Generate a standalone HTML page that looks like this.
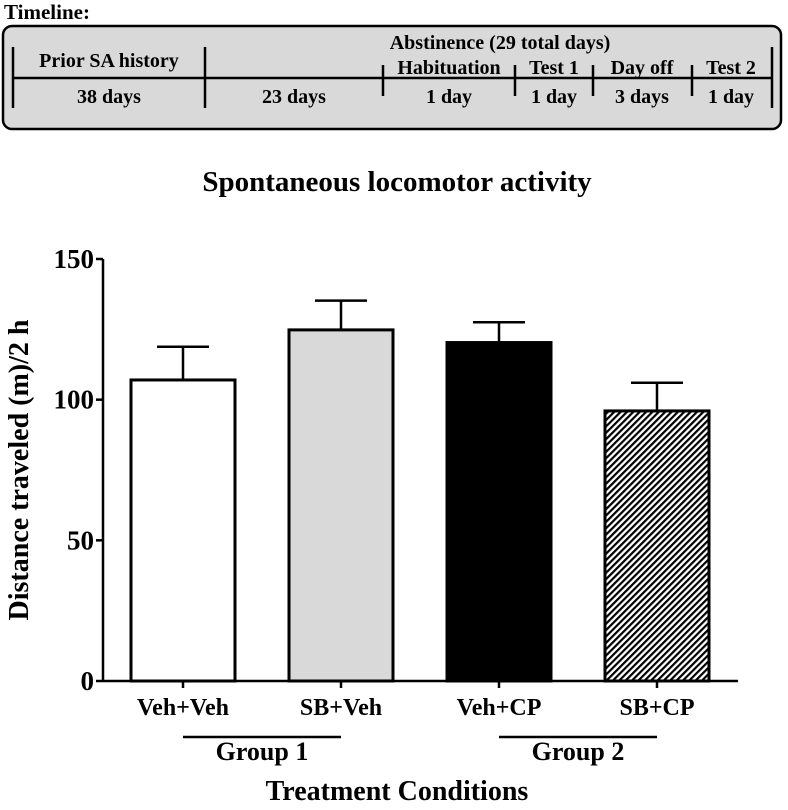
<!DOCTYPE html>
<html><head><meta charset="utf-8"><style>
body{margin:0;background:#fff;}
svg, svg text{font-family:'Liberation Serif','DejaVu Serif','Times New Roman',serif !important;font-weight:bold;fill:#000;}
</style></head><body>
<svg width="788" height="805" viewBox="0 0 788 805" xmlns="http://www.w3.org/2000/svg" font-family="Liberation Serif, DejaVu Serif, serif">
<defs><pattern id="hatch" patternUnits="userSpaceOnUse" width="4.5" height="4.5" patternTransform="rotate(45)"><rect width="4.5" height="4.5" fill="#fff"/><rect width="2.2" height="4.5" fill="#000"/></pattern></defs>
<g>
<text x="4" y="19" font-size="21">Timeline:</text>
<rect x="3" y="26" width="778" height="103" rx="9" fill="#d9d9d9" stroke="#000" stroke-width="2.5"/>
<line x1="13" y1="78" x2="772" y2="78" stroke="#000" stroke-width="2.5"/>
<g stroke="#000" stroke-width="2.5">
<line x1="13" y1="47" x2="13" y2="108"/><line x1="205" y1="47" x2="205" y2="108"/><line x1="772" y1="47" x2="772" y2="108"/>
<line x1="383" y1="65" x2="383" y2="96"/><line x1="515" y1="65" x2="515" y2="96"/><line x1="593" y1="65" x2="593" y2="96"/><line x1="692" y1="65" x2="692" y2="96"/>
</g>
<g font-size="20" text-anchor="middle">
<text x="109" y="67">Prior SA history</text><text x="109" y="103">38 days</text>
<text x="500" y="49">Abstinence (29 total days)</text>
<text x="294" y="103">23 days</text>
<text x="449" y="74">Habituation</text><text x="449" y="103">1 day</text>
<text x="554" y="74">Test 1</text><text x="554" y="103">1 day</text>
<text x="642" y="74">Day off</text><text x="642" y="103">3 days</text>
<text x="731" y="74">Test 2</text><text x="731" y="103">1 day</text>
</g>
</g>
<text x="397" y="191" font-size="29" text-anchor="middle">Spontaneous locomotor activity</text>
<g id="chart"></g>
<text transform="translate(28,470) rotate(-90)" font-size="28" text-anchor="middle">Distance traveled (m)/2 h</text>
<text x="397" y="800" font-size="28" text-anchor="middle">Treatment Conditions</text>
</svg>
<script>
const categories=["Veh+Veh","SB+Veh","Veh+CP","SB+CP"];
const means=[107,124.8,120.3,96];
const sems=[11.8,10.4,7.2,10];
const fills=["#fff","#d9d9d9","#000","url(#hatch)"];
const yTicks=[0,50,100,150];
const groups=["Group 1","Group 2"];
const NS="http://www.w3.org/2000/svg";
const g=document.getElementById('chart');
const y0=681,y1=259,ymax=150;
function y(v){return y0-(v/ymax)*(y0-y1);}
function xc(i){return 183+i*158;}
function mk(t,a){const e=document.createElementNS(NS,t);for(const k in a)e.setAttribute(k,a[k]);g.appendChild(e);return e;}
let ax=mk('line',{x1:103,y1:y(0),x2:103,y2:y(ymax),stroke:'#000','stroke-width':2.5});


let xa=mk('line',{x1:103,y1:y0,x2:738,y2:y0,stroke:'#000','stroke-width':2.5});


yTicks.forEach(v=>{
 mk('line',{x1:96,y1:y(v),x2:103,y2:y(v),stroke:'#000','stroke-width':2.5});
 const t=mk('text',{x:94,y:y(v)+9,'font-size':27,'text-anchor':'end'});t.textContent=v;
 
 
});
categories.forEach((c,i)=>{
 const cx=xc(i),w=104;
 mk('line',{x1:cx,y1:y(means[i]),x2:cx,y2:y(means[i]+sems[i]),stroke:'#000','stroke-width':2.5});
 mk('line',{x1:cx-26,y1:y(means[i]+sems[i]),x2:cx+26,y2:y(means[i]+sems[i]),stroke:'#000','stroke-width':2.5});
 const b=mk('rect',{x:cx-w/2,y:y(means[i]),width:w,height:y0-y(means[i]),fill:fills[i],stroke:'#000','stroke-width':3});
 
 
 mk('line',{x1:cx,y1:y0,x2:cx,y2:y0+7,stroke:'#000','stroke-width':2.5});
 const t=mk('text',{x:cx,y:715,'font-size':24,'text-anchor':'middle'});t.textContent=c;
 
 
});
groups.forEach((gr,j)=>{
 const a=xc(j*2),b=xc(j*2+1);
 mk('line',{x1:a,y1:737,x2:b,y2:737,stroke:'#000','stroke-width':2.5});
 const t=mk('text',{x:(a+b)/2,y:760,'font-size':26,'text-anchor':'middle'});t.textContent=gr;
 
 
});
</script>
</body></html>
